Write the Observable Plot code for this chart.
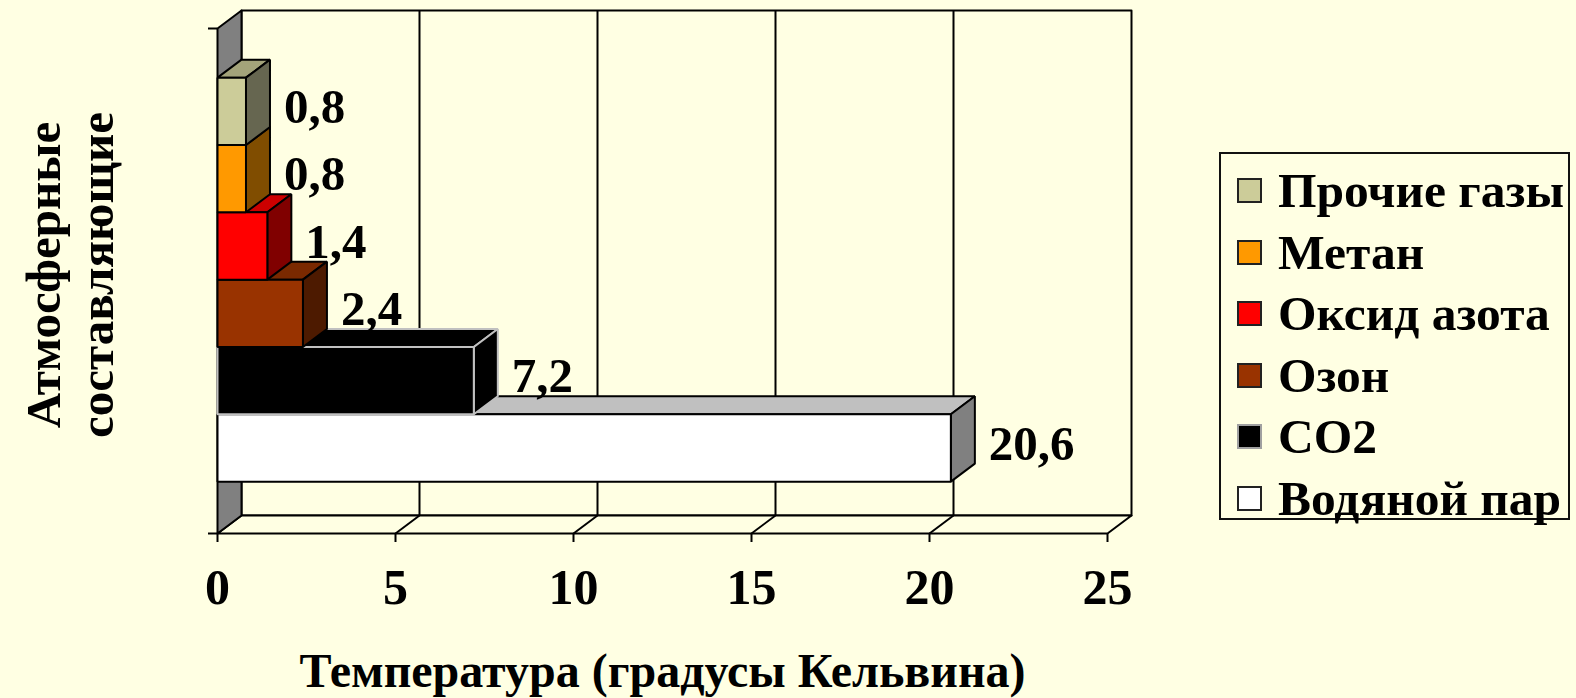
<!DOCTYPE html>
<html>
<head>
<meta charset="utf-8">
<script src="https://cdn.jsdelivr.net/npm/d3@7"></script>
<script src="https://cdn.jsdelivr.net/npm/@observablehq/plot@0.6"></script>
<style>
  html, body { margin: 0; padding: 0; background: #FFFFE3; }
  #wrap { position: relative; width: 1576px; height: 698px; background: #FFFFE3; overflow: hidden;
          font-family: "Liberation Serif", "Times New Roman", serif; font-weight: bold; color: #000; }
  #legend { position: absolute; left: 1219px; top: 152px; width: 351px; height: 368px;
            border: 2px solid #111; box-sizing: border-box; padding-top: 6px; }
  .item { height: 61.5px; display: flex; align-items: center; font-size: 49.5px; line-height: 1; white-space: nowrap; }
  .sw { width: 21px; height: 21px; border: 2px solid #222; box-sizing: content-box; margin-left: 16px; margin-right: 16px; flex: none; }
</style>
</head>
<body>
<div id="wrap"></div>
<script>
// ---- data ----
const series = ["Водяной пар", "CO2", "Озон", "Оксид азота", "Метан", "Прочие газы"];
const values = [20.6, 7.2, 2.4, 1.4, 0.8, 0.8];
const frontColors = ["#FFFFFF", "#000000", "#993300", "#FF0000", "#FF9900", "#CCCC99"];
const topColors   = ["#C0C0C0", "#000000", "#7A2900", "#CC0000", "#CC7A00", "#A3A37A"];
const sideColors  = ["#808080", "#000000", "#4D1A00", "#800000", "#804D00", "#666650"];
const edgeColors  = ["#000000", "#C0C0C0", "#000000", "#000000", "#000000", "#000000"];
const legendBorder = ["#222222", "#A0A0A0", "#222222", "#222222", "#222222", "#222222"];
const xTicks = [0, 5, 10, 15, 20, 25];
const xTitle = "Температура (градусы Кельвина)";
const yTitle = "Атмосферные\nсоставляющие";

// ---- geometry helpers (3-D look) ----
const X_MAX = 25, Y_MAX = 7.5, PAD = 0.77;
const W = 1576, H = 698, ML = 217, MR = 469, MT = 28, MB = 165;
const depthPx = {x: 24, y: 18};
const DX = depthPx.x * X_MAX / (W - ML - MR);
const DY = depthPx.y * Y_MAX / (H - MT - MB);

const polys = [];
function poly(id, pts, fill, stroke) {
  pts.forEach(([x, y]) => polys.push({id, x, y, fill, stroke}));
}
// walls & floor
poly("backwall", [[DX, DY], [X_MAX + DX, DY], [X_MAX + DX, Y_MAX + DY], [DX, Y_MAX + DY]], "#FFFFE3", "#000");
const decor = polys.splice(0);
poly("floor", [[0, 0], [X_MAX, 0], [X_MAX + DX, DY], [DX, DY]], "#FFFFE3", "#000");
poly("leftwall", [[0, 0], [DX, DY], [DX, Y_MAX + DY], [0, Y_MAX]], "#808080", "#000");
const walls = polys.splice(0);
// bars, bottom to top
values.forEach((v, i) => {
  const y0 = PAD + i, y1 = PAD + i + 1;
  poly("top" + i, [[0, y1], [v, y1], [v + DX, y1 + DY], [DX, y1 + DY]], topColors[i], edgeColors[i]);
  poly("side" + i, [[v, y0], [v, y1], [v + DX, y1 + DY], [v + DX, y0 + DY]], sideColors[i], edgeColors[i]);
  poly("front" + i, [[0, y0], [v, y0], [v, y1], [0, y1]], frontColors[i], edgeColors[i]);
});
const bars = polys.splice(0);
const labelData = values.map((v, i) => ({x: v, y: PAD + i + 0.5, text: String(v).replace(".", ",")}));
const gridTicks = xTicks.slice(1, -1);

const chart = Plot.plot({
  width: W, height: H,
  marginLeft: ML, marginRight: MR, marginTop: MT, marginBottom: MB,
  x: {domain: [0, X_MAX]},
  y: {domain: [0, Y_MAX]},
  style: {background: "transparent", fontFamily: "'Liberation Serif', 'Times New Roman', serif", fontWeight: "bold", color: "#000", overflow: "visible"},
  marks: [
    Plot.line(decor, {x: "x", y: "y", z: "id", fill: "fill", stroke: "stroke", strokeWidth: 2, curve: "linear-closed"}),
    Plot.ruleX(gridTicks, {y1: 0, y2: Y_MAX, dx: depthPx.x, dy: -depthPx.y, stroke: "#000", strokeWidth: 2, strokeOpacity: 1}),
    Plot.line(walls, {x: "x", y: "y", z: "id", fill: "fill", stroke: "stroke", strokeWidth: 2, curve: "linear-closed"}),
    Plot.link(gridTicks, {x1: d => d, y1: 0, x2: d => d + DX, y2: DY, stroke: "#000", strokeWidth: 2}),
    Plot.line(bars, {x: "x", y: "y", z: "id", fill: "fill", stroke: "stroke", strokeWidth: 2, curve: "linear-closed", strokeLinejoin: "miter"}),
    Plot.text(labelData, {x: "x", y: "y", text: "text", dx: 38, dy: -4, textAnchor: "start", lineAnchor: "middle", fontSize: 49, fontWeight: "bold", fill: "#000"}),
    Plot.axisX({ticks: xTicks, tickSize: 9, tickPadding: 26, fontSize: 50, fontWeight: "bold", label: null, tickFormat: d => String(d), stroke: "#000", strokeWidth: 2}),
    Plot.axisY({ticks: [0, Y_MAX], tickSize: 9, tickFormat: () => "", label: null, stroke: "#000", strokeWidth: 2}),
    Plot.text([xTitle], {frameAnchor: "bottom", dy: 138, fontSize: 48, fontWeight: "bold", lineAnchor: "middle", fill: "#000"}),
    Plot.text([yTitle], {frameAnchor: "left", dx: -148, dy: -6, rotate: -90, fontSize: 49, fontWeight: "bold", lineHeight: 1.08, lineAnchor: "middle", textAnchor: "middle", fill: "#000"})
  ]
});
const wrap = document.getElementById("wrap");
wrap.appendChild(chart);

// legend (top to bottom: reverse order of series)
const legend = document.createElement("div");
legend.id = "legend";
series.map((s, i) => i).reverse().forEach(i => {
  const item = document.createElement("div");
  item.className = "item";
  const sw = document.createElement("span");
  sw.className = "sw";
  sw.style.background = frontColors[i];
  sw.style.borderColor = legendBorder[i];
  const t = document.createElement("span");
  t.textContent = series[i];
  item.appendChild(sw); item.appendChild(t);
  legend.appendChild(item);
});
wrap.appendChild(legend);
</script>
</body>
</html>
